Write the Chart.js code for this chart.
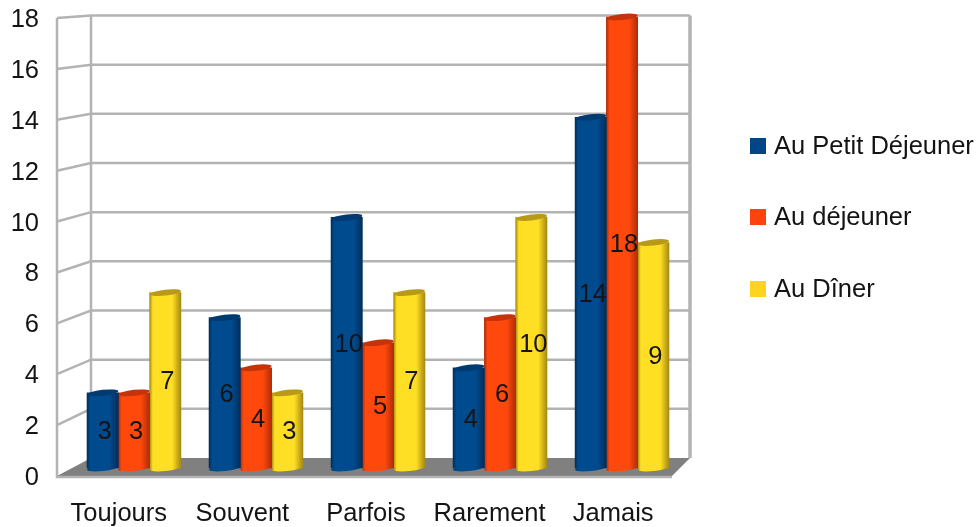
<!DOCTYPE html>
<html>
<head>
<meta charset="utf-8">
<title>Repas</title>
<script src="https://cdn.jsdelivr.net/npm/chart.js@4"></script>
<style>
    html, body { margin: 0; padding: 0; background: #fff; }
    canvas { display: block; }
</style>
</head>
<body>
<canvas id="grafica" width="977" height="527"></canvas>
<script>
// data
    const categories = ["Toujours", "Souvent", "Parfois", "Rarement", "Jamais"];
    const seriesNames = ["Au Petit Déjeuner", "Au déjeuner", "Au Dîner"];
    const petitDejeuner = [3, 6, 10, 4, 14];
    const dejeuner = [3, 4, 5, 6, 18];
    const diner = [7, 3, 7, 10, 9];
    const seriesValues = [petitDejeuner, dejeuner, diner];

// colours: legend, lit part of the bar, shadow side, top of the cylinder
    const mainColors = ["#004586", "#ff420e", "#ffd320"];
    const litColors = ["#004a8e", "#ff480c", "#ffdf24"];
    const edgeColors = ["#002f5c", "#b02c08", "#a68a12"];
    const capColors = ["#003a70", "#c4330a", "#b89a18"];

    const FONT_SIZE = 25.5;
    const FONT_FAMILY = '"Liberation Sans", Arial, sans-serif';
    const FONT = FONT_SIZE + "px " + FONT_FAMILY;
    const TEXT = "#141414";
    const WALL = "#b3b3b3";
    const BAR_W = 31.3;

// back wall of the 3D box, the front plane is the chart area
    const backLeft = 91, backRight = 690, backTop = 15.5, backBottom = 458;
    const floorRight = 672;

    function barGradient(context) {
        const chart = context.chart;
        const i = context.datasetIndex;
        const xs = chart.scales.xBars;
        const fallback = mainColors[i] || "#000";
        if (!xs || context.dataIndex === undefined) return fallback;

        const cx = xs.getPixelForValue(context.dataIndex) + (i - 1) * BAR_W;
        // scales have no size yet on the first pass
        if (!Number.isFinite(cx)) return fallback;

        const g = chart.ctx.createLinearGradient(cx - BAR_W / 2, 0, cx + BAR_W / 2, 0);
        g.addColorStop(0, edgeColors[i]);
        g.addColorStop(0.1, litColors[i]);
        g.addColorStop(0.72, litColors[i]);
        g.addColorStop(1, edgeColors[i]);
        return g;
    }

// box behind the bars
    const wallsPlugin = {
        id: "walls",
        beforeDatasetsDraw(chart) {
            const ctx = chart.ctx;
            const area = chart.chartArea;
            const y = chart.scales.y;

            ctx.save();
            ctx.fillStyle = "#808080";
            ctx.beginPath();
            ctx.moveTo(area.left, area.bottom);
            ctx.lineTo(backLeft, backBottom);
            ctx.lineTo(backRight, backBottom);
            ctx.lineTo(floorRight, area.bottom);
            ctx.closePath();
            ctx.fill();

            ctx.strokeStyle = WALL;
            ctx.lineWidth = 2.5;
            y.ticks.forEach((tick) => {
                const front = y.getPixelForValue(tick.value);
                const back = backBottom - (backBottom - backTop) * tick.value / y.max;
                if (tick.value > 0) {
                    ctx.beginPath();
                    ctx.moveTo(area.left, front);
                    ctx.lineTo(backLeft, back);
                    ctx.lineTo(backRight, back);
                    ctx.stroke();
                }
            });
            ctx.beginPath();
            ctx.moveTo(area.left, area.top);
            ctx.lineTo(area.left, area.bottom + 1);
            ctx.lineTo(floorRight, area.bottom + 1);
            ctx.moveTo(backLeft, backTop);
            ctx.lineTo(backLeft, backBottom);
            ctx.stroke();
            ctx.lineWidth = 3.5;
            ctx.beginPath();
            ctx.moveTo(backRight, backTop);
            ctx.lineTo(backRight, backBottom);
            ctx.stroke();
            ctx.restore();
        },
        // round the bottom and close the top of each bar
        afterDatasetDraw(chart, args) {
            const ctx = chart.ctx;
            ctx.save();
            args.meta.data.forEach((bar) => {
                ctx.fillStyle = bar.options.backgroundColor;
                ctx.beginPath();
                ctx.ellipse(bar.x, bar.base, bar.width / 2, 3, -0.11, 0, Math.PI * 2);
                ctx.fill();
                ctx.fillStyle = capColors[args.index];
                ctx.beginPath();
                ctx.ellipse(bar.x, bar.y, bar.width / 2, 3, -0.11, 0, Math.PI * 2);
                ctx.fill();
            });
            ctx.restore();
        },
        afterDatasetsDraw(chart) {
            const ctx = chart.ctx;
            ctx.save();
            ctx.font = FONT;
            ctx.fillStyle = TEXT;
            ctx.textAlign = "center";
            ctx.textBaseline = "middle";
            chart.data.datasets.forEach((set, i) => {
                chart.getDatasetMeta(i).data.forEach((bar, j) => {
                    ctx.fillText(seriesValues[i][j], bar.x + 2, (bar.y + bar.base) / 2 + 2);
                });
            });
            ctx.restore();
        },
        afterDraw(chart) {
            const ctx = chart.ctx;
            const rows = [146, 217, 289];
            ctx.save();
            ctx.font = FONT;
            ctx.textBaseline = "middle";
            seriesNames.forEach((name, i) => {
                ctx.fillStyle = mainColors[i];
                ctx.fillRect(750, rows[i] - 8, 16, 16);
                ctx.fillStyle = TEXT;
                ctx.fillText(name, 774, rows[i] + 1);
            });
            ctx.restore();
        }
    };

    const ctx = document.getElementById("grafica").getContext("2d");

    const chart = new Chart(ctx, {
        type: "bar",
        data: {
            labels: categories,
            datasets: seriesNames.map((name, i) => ({
                label: name,
                data: seriesValues[i].map((v, j) => ({ x: j, y: v })),
                xAxisID: "xBars",
                yAxisID: "yBars",
                clip: false,
                backgroundColor: barGradient,
                borderWidth: 0,
                barThickness: BAR_W
            }))
        },
        plugins: [wallsPlugin],
        options: {
            responsive: false,
            animation: false,
            devicePixelRatio: 1,
            layout: { padding: { top: 18, right: 302, bottom: 0, left: 0 } },
            plugins: { legend: { display: false }, tooltip: { enabled: false } },
            scales: {
                x: {
                    type: "category",
                    grid: { display: false, drawTicks: false },
                    border: { display: false },
                    afterFit: (s) => { s.height = 51; },
                    ticks: { color: TEXT, font: { family: FONT_FAMILY, size: FONT_SIZE }, padding: 23, maxRotation: 0, autoSkip: false }
                },
                y: {
                    min: 0,
                    max: 18,
                    grid: { display: false, drawTicks: false },
                    border: { display: false },
                    // tick padding would otherwise push the top of the area down
                    afterFit: (s) => { s.width = 57; s.paddingTop = 0; s.paddingBottom = 0; },
                    ticks: { stepSize: 2, color: TEXT, font: { family: FONT_FAMILY, size: FONT_SIZE }, padding: 18, labelOffset: 2 }
                },
                // the bars stand further back than the axis labels
                xBars: { type: "linear", display: false, offset: false, min: -0.631, max: 4.434 },
                yBars: { type: "linear", display: false, min: -0.319, max: 17.96 }
            }
        }
    });
</script>
</body>
</html>
